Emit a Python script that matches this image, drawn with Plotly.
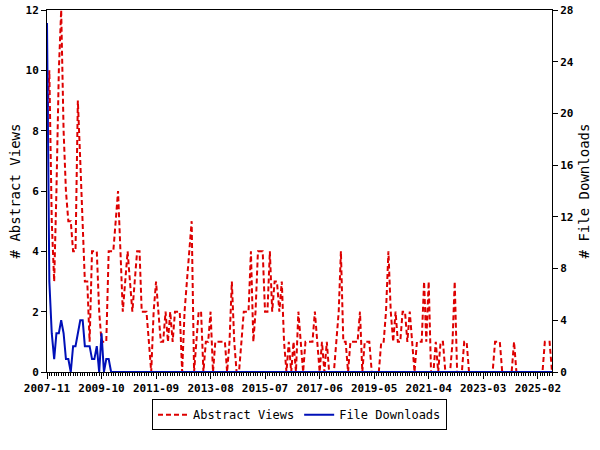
import pandas as pd
import plotly.graph_objects as go

# Monthly periods 2007-11 .. 2025-08
months = pd.date_range("2007-11-01", "2025-08-01", freq="MS").strftime("%Y-%m").tolist()

tick_labels = ["2007-11", "2009-10", "2011-09", "2013-08", "2015-07",
               "2017-06", "2019-05", "2021-04", "2023-03", "2025-02"]

abstract_views = [
    8, 10, 5, 3, 6, 10, 12, 8, 6, 5,
    5, 4, 4, 9, 7, 5, 3, 3, 1, 4,
    4, 4, 2, 1, 1, 1, 4, 4, 4, 5,
    6, 4, 2, 3, 4, 3, 2, 3, 4, 4,
    2, 2, 2, 1, 0, 2, 3, 2, 1, 1,
    2, 1, 2, 1, 2, 2, 2, 0, 2, 3,
    4, 5, 0, 1, 2, 2, 0, 1, 1, 2,
    0, 1, 1, 1, 1, 1, 0, 1, 3, 1,
    0, 0, 1, 2, 2, 2, 4, 1, 2, 4,
    4, 4, 2, 2, 4, 2, 3, 3, 2, 3,
    1, 0, 1, 0, 1, 0, 2, 1, 0, 1,
    1, 1, 1, 2, 1, 0, 1, 0, 1, 0,
    0, 0, 1, 2, 4, 1, 1, 0, 1, 1,
    1, 1, 2, 0, 1, 1, 1, 0, 0, 0,
    0, 1, 1, 2, 4, 2, 1, 2, 1, 1,
    2, 2, 1, 2, 1, 0, 1, 1, 1, 3,
    1, 3, 0, 0, 1, 0, 1, 1, 0, 0,
    0, 1, 3, 0, 0, 0, 1, 1, 0, 0,
    0, 0, 0, 0, 0, 0, 0, 0, 0, 1,
    1, 1, 0, 0, 0, 0, 0, 1, 0, 0,
    0, 0, 0, 0, 0, 0, 0, 0, 0, 0,
    1, 1, 1, 0,
]

file_downloads = [
    27, 7, 3, 1, 3, 3, 4, 3, 1, 1,
    0, 2, 2, 3, 4, 4, 2, 2, 2, 1,
    1, 2, 0, 3, 0, 1, 1, 0, 0, 0,
    0, 0, 0, 0, 0, 0, 0, 0, 0, 0,
    0, 0, 0, 0, 0, 0, 0, 0, 0, 0,
    0, 0, 0, 0, 0, 0, 0, 0, 0, 0,
    0, 0, 0, 0, 0, 0, 0, 0, 0, 0,
    0, 0, 0, 0, 0, 0, 0, 0, 0, 0,
    0, 0, 0, 0, 0, 0, 0, 0, 0, 0,
    0, 0, 0, 0, 0, 0, 0, 0, 0, 0,
    0, 0, 0, 0, 0, 0, 0, 0, 0, 0,
    0, 0, 0, 0, 0, 0, 0, 0, 0, 0,
    0, 0, 0, 0, 0, 0, 0, 0, 0, 0,
    0, 0, 0, 0, 0, 0, 0, 0, 0, 0,
    0, 0, 0, 0, 0, 0, 0, 0, 0, 0,
    0, 0, 0, 0, 0, 0, 0, 0, 0, 0,
    0, 0, 0, 0, 0, 0, 0, 0, 0, 0,
    0, 0, 0, 0, 0, 0, 0, 0, 0, 0,
    0, 0, 0, 0, 0, 0, 0, 0, 0, 0,
    0, 0, 0, 0, 0, 0, 0, 0, 0, 0,
    0, 0, 0, 0, 0, 0, 0, 0, 0, 0,
    0, 0, 0, 0,
]

assert len(abstract_views) == len(months) == len(file_downloads)

FONT = "DejaVu Sans Mono"

fig = go.Figure()
fig.add_trace(go.Scatter(
    x=months, y=abstract_views, name="Abstract Views", mode="lines",
    line=dict(color="#dd0000", width=2, dash="5px,3px"), yaxis="y"))
fig.add_trace(go.Scatter(
    x=months, y=file_downloads, name="File Downloads", mode="lines",
    line=dict(color="#0010b8", width=2), yaxis="y2"))

fig.update_layout(
    width=600, height=450,
    margin=dict(l=47, r=48, t=10, b=78, autoexpand=False),
    paper_bgcolor="white", plot_bgcolor="white",
    font=dict(family=FONT, size=12, color="black"),
    showlegend=True,
    legend=dict(orientation="h", x=0.5, xanchor="center", y=-0.075, yanchor="top",
                bordercolor="black", borderwidth=1, font=dict(family=FONT, size=12),
                itemwidth=30),
    xaxis=dict(
        type="date", range=[months[0], months[-1]], automargin=False,
        tickvals=tick_labels, ticktext=tick_labels,
        ticks="outside", ticklen=6, tickcolor="black", tickwidth=1,
        showline=True, linecolor="black", linewidth=1, mirror=True,
        showgrid=False, zeroline=False,
        tickfont=dict(family=FONT, size=11, weight="bold"),
        minor=dict(dtick="M1", tick0=months[0], ticks="outside", ticklen=3,
                   tickcolor="black", tickwidth=1, showgrid=False),
    ),
    yaxis=dict(
        range=[0, 12], dtick=2, ticks="outside", ticklen=5, tickcolor="black",
        showline=True, linecolor="black", linewidth=1, automargin=False,
        showgrid=False, zeroline=False,
        tickfont=dict(family=FONT, size=11, weight="bold"),
        title=dict(text="# Abstract Views", font=dict(family=FONT, size=14), standoff=1),
    ),
    yaxis2=dict(
        range=[0, 28], dtick=4, ticks="outside", ticklen=5, tickcolor="black",
        overlaying="y", side="right", automargin=False,
        showline=True, linecolor="black", linewidth=1,
        showgrid=False, zeroline=False,
        tickfont=dict(family=FONT, size=11, weight="bold"),
        title=dict(text="# File Downloads", font=dict(family=FONT, size=14), standoff=6),
    ),
)

fig.write_html("out.html", config={"displayModeBar": False},
               post_script="document.body.style.margin='0';")
